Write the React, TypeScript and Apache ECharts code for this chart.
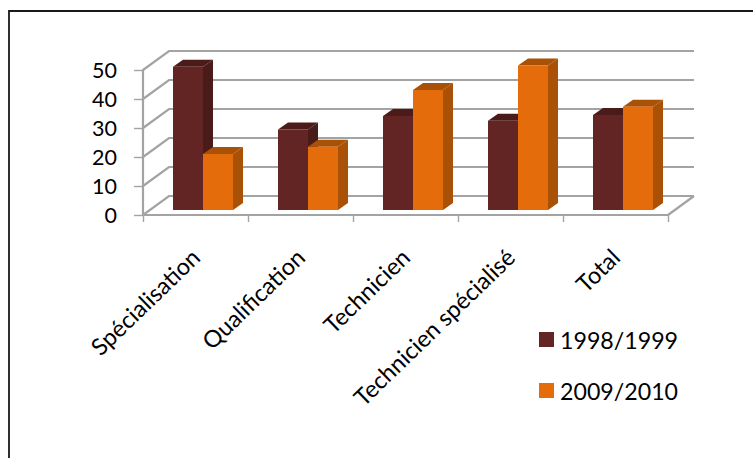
import React, { useEffect, useRef } from "react";
import * as echarts from "echarts";

const categories = ["Spécialisation", "Qualification", "Technicien", "Technicien spécialisé", "Total"];
const serie1998 = [49.4, 27.8, 32.4, 30.8, 32.8];
const serie2009 = [19.3, 21.8, 41.4, 49.8, 35.6];
const wallTicks = [0, 10, 20, 30, 40, 50];
const seriesNames = ["1998/1999", "2009/2010"];

const GRAY = "#a3a3a3";
const FONT = "Lato";

// oblique projection of the fake 3D box
const WALL_DX = 26;
const WALL_DY = -19;
const BAR_PLANE_DX = 7.5;
const BAR_PLANE_DY = -5;
const BAR_DEPTH_DX = 10;
const BAR_DEPTH_DY = -7;

const wallRender = (params: any, api: any) => {
  const cs = params.coordSys;
  const v = api.value(0);
  const p = api.coord([0, v]);
  const y = p[1];
  const x0 = cs.x;
  const x1 = cs.x + cs.width;
  const children: any[] = [
    {
      type: "polyline",
      shape: { points: [[x0, y], [x0 + WALL_DX, y + WALL_DY], [x1 + WALL_DX, y + WALL_DY]] },
      style: { stroke: GRAY, lineWidth: 2.2, fill: "none" },
    },
  ];
  if (v === 0) {
    children.push({
      type: "line",
      shape: { x1, y1: y, x2: x1 + WALL_DX, y2: y + WALL_DY },
      style: { stroke: GRAY, lineWidth: 2.2 },
    });
  }
  return { type: "group", children };
};

const barRender = (slot: number, front: string, top: string, side: string) => (params: any, api: any) => {
  const cs = params.coordSys;
  const band = cs.width / categories.length;
  const w = band * 0.2857;
  const cat = api.value(0);
  const val = api.value(1);
  const c = api.coord([cat, val]);
  const b = api.coord([cat, 0]);
  const xL = c[0] + BAR_PLANE_DX + (slot - 1) * w;
  const xR = xL + w;
  const yT = c[1] + BAR_PLANE_DY;
  const yB = b[1] + BAR_PLANE_DY;
  const d = BAR_DEPTH_DX;
  const e = BAR_DEPTH_DY;
  return {
    type: "group",
    children: [
      { type: "polygon", shape: { points: [[xR, yT], [xR + d, yT + e], [xR + d, yB + e], [xR, yB]] }, style: { fill: side } },
      { type: "polygon", shape: { points: [[xL, yT], [xL + d, yT + e], [xR + d, yT + e], [xR, yT]] }, style: { fill: top } },
      { type: "rect", shape: { x: xL, y: yT, width: w, height: yB - yT }, style: { fill: front } },
    ],
  };
};

export default function App() {
  const ref = useRef<HTMLDivElement>(null);
  useEffect(() => {
    const chart = echarts.init(ref.current!, undefined, { renderer: "svg" });
    chart.setOption({
      animation: false,
      backgroundColor: "#ffffff",
      textStyle: { fontFamily: FONT },
      grid: { left: 143, top: 70, width: 525, height: 145 },
      xAxis: {
        type: "category",
        data: categories,
        boundaryGap: true,
        axisLine: { lineStyle: { color: GRAY, width: 2.2 } },
        axisTick: { show: true, alignWithLabel: false, length: 7, lineStyle: { color: GRAY, width: 1.4 } },
        axisLabel: {
          rotate: 44,
          interval: 0,
          margin: 38,
          fontFamily: FONT,
          fontSize: 23.5,
          color: "#000",
        },
      },
      yAxis: {
        type: "value",
        min: 0,
        max: 50,
        interval: 10,
        splitLine: { show: false },
        axisLine: { show: true, lineStyle: { color: GRAY, width: 2.2 } },
        axisTick: { show: true, length: 9, lineStyle: { color: GRAY, width: 1.4 } },
        axisLabel: { margin: 26, fontFamily: FONT, fontSize: 21.5, color: "#000" },
      },
      legend: {
        orient: "vertical",
        left: 534,
        top: 323,
        itemWidth: 15,
        itemHeight: 15,
        itemGap: 28,
        icon: "rect",
        data: seriesNames,
        textStyle: { fontFamily: FONT, fontSize: 23.2, color: "#000", padding: [0, 0, 0, 1] },
      },
      graphic: [
        {
          type: "polyline",
          silent: true,
          z: -10,
          shape: { points: [[9, 458], [9, 11], [753, 11]] },
          style: { fill: "none", stroke: "#1a1a1a", lineWidth: 1.8 },
        },
      ],
      series: [
        {
          type: "custom",
          name: "walls",
          z: 1,
          renderItem: wallRender,
          data: wallTicks.map((t) => [t]),
          encode: { y: 0 },
          silent: true,
        },
        {
          type: "custom",
          name: seriesNames[0],
          z: 3,
          itemStyle: { color: "#632523" },
          renderItem: barRender(0, "#632523", "#4a1b19", "#4a1b19"),
          data: serie1998.map((v, i) => [i, v]),
          encode: { x: 0, y: 1 },
        },
        {
          type: "custom",
          name: seriesNames[1],
          z: 4,
          itemStyle: { color: "#e46c0a" },
          renderItem: barRender(1, "#e46c0a", "#aa5108", "#aa5108"),
          data: serie2009.map((v, i) => [i, v]),
          encode: { x: 0, y: 1 },
        },
      ],
    });
    return () => chart.dispose();
  }, []);
  return <div ref={ref} style={{ position: "fixed", left: 0, top: 0, width: 753, height: 458 }} />;
}
